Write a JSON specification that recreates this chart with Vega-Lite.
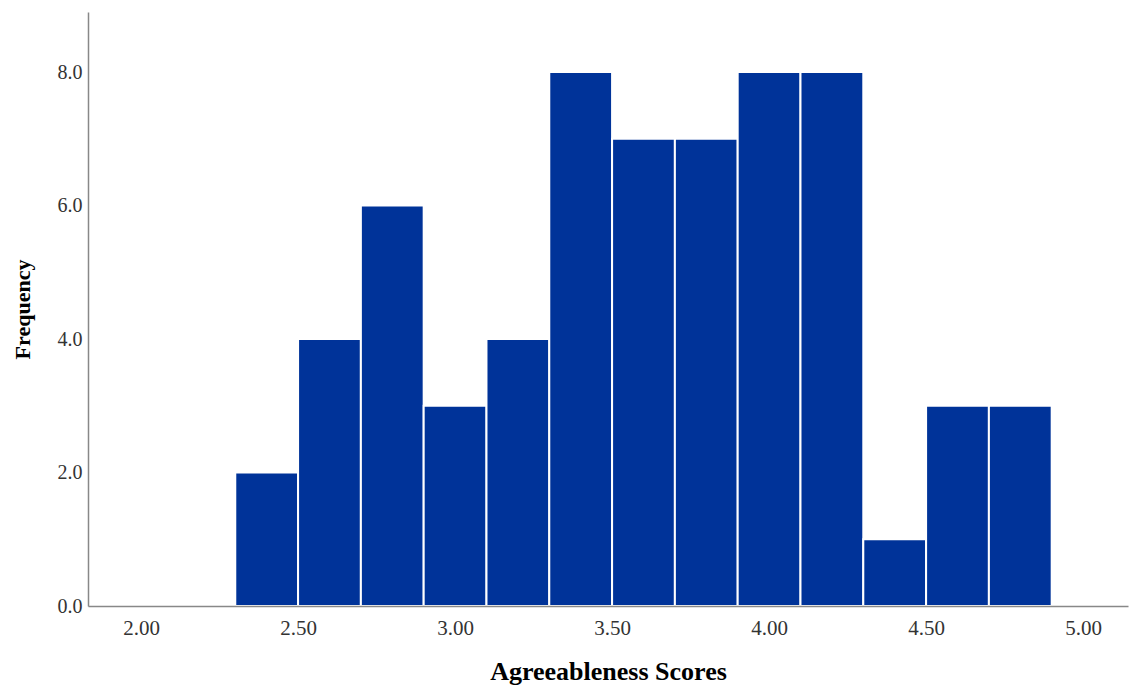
{
  "$schema": "https://vega.github.io/schema/vega-lite/v6.json",
  "autosize": "none",
  "padding": {"left": 88, "top": 12, "right": 3, "bottom": 80},
  "width": 1040,
  "height": 594,
  "background": "white",
  "config": {"view": {"stroke": null}},
  "data": {"values": [
    {"bin_start": 2.3, "bin_end": 2.5, "count": 2},
    {"bin_start": 2.5, "bin_end": 2.7, "count": 4},
    {"bin_start": 2.7, "bin_end": 2.9, "count": 6},
    {"bin_start": 2.9, "bin_end": 3.1, "count": 3},
    {"bin_start": 3.1, "bin_end": 3.3, "count": 4},
    {"bin_start": 3.3, "bin_end": 3.5, "count": 8},
    {"bin_start": 3.5, "bin_end": 3.7, "count": 7},
    {"bin_start": 3.7, "bin_end": 3.9, "count": 7},
    {"bin_start": 3.9, "bin_end": 4.1, "count": 8},
    {"bin_start": 4.1, "bin_end": 4.3, "count": 8},
    {"bin_start": 4.3, "bin_end": 4.5, "count": 1},
    {"bin_start": 4.5, "bin_end": 4.7, "count": 3},
    {"bin_start": 4.7, "bin_end": 4.9, "count": 3}
  ]},
  "mark": {"type": "bar", "color": "#003399", "stroke": "white", "strokeWidth": 2},
  "encoding": {
    "x": {
      "field": "bin_start", "type": "quantitative",
      "scale": {"domain": [1.831, 5.143], "nice": false, "zero": false},
      "axis": {
        "values": [2, 2.5, 3, 3.5, 4, 4.5, 5], "format": ".2f", "zindex": 1,
        "title": "Agreeableness Scores", "grid": false, "ticks": false,
        "domainColor": "#888888", "domainWidth": 1.5,
        "labelFont": "Liberation Serif", "labelFontSize": 21, "labelColor": "#333333", "labelPadding": 11,
        "titleFont": "Liberation Serif", "titleFontSize": 26, "titleFontWeight": "bold", "titleColor": "#000000", "titlePadding": 20
      }
    },
    "x2": {"field": "bin_end"},
    "y": {
      "field": "count", "type": "quantitative",
      "scale": {"domain": [0, 8.9], "nice": false},
      "axis": {
        "values": [0, 2, 4, 6, 8], "format": ".1f", "zindex": 1,
        "title": "Frequency", "grid": false, "ticks": false,
        "domainColor": "#888888", "domainWidth": 1.5,
        "labelFont": "Liberation Serif", "labelFontSize": 20, "labelColor": "#333333", "labelPadding": 6,
        "titleFont": "Liberation Serif", "titleFontSize": 22, "titleFontWeight": "bold", "titleColor": "#000000", "titlePadding": 23
      }
    },
    "y2": {"datum": 0}
  }
}
